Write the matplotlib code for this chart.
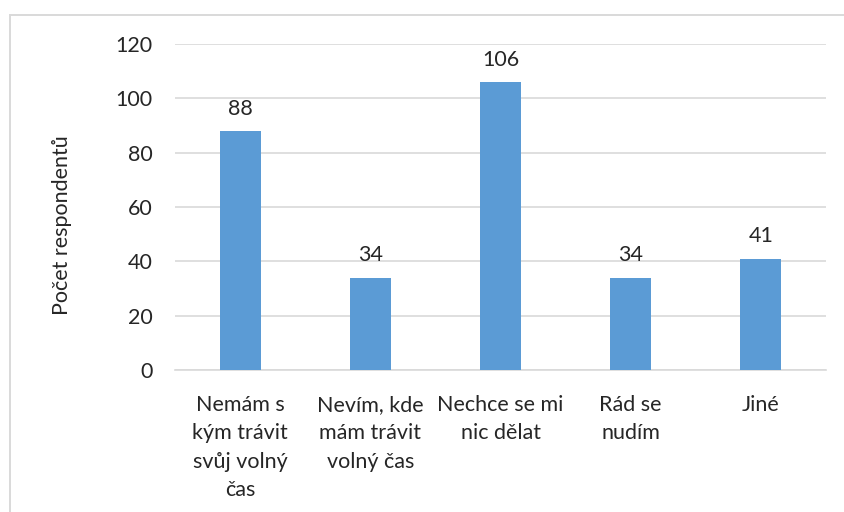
import matplotlib.pyplot as plt
from matplotlib.patches import Rectangle

# data
kategorie = ['Nemám s\nkým trávit\nsvůj volný\nčas', 'Nevím, kde\nmám trávit\nvolný čas',
             'Nechce se mi\nnic dělat', 'Rád se\nnudím', 'Jiné']
pocty = [88, 34, 106, 34, 41]
y_ticks = [0, 20, 40, 60, 80, 100, 120]

plt.rcParams['font.family'] = ['Lato', 'DejaVu Sans']
FS = 15.5

fig = plt.figure(figsize=(8.44, 5.12), dpi=100)
ax = fig.add_axes([175 / 844, 1 - 370 / 512, (826 - 175) / 844, 326 / 512])

# outer frame like the Excel chart area (only left and top visible)
fig.patches.append(Rectangle((10 / 844, -0.1), 0.99 + 0.1, 1 - 15 / 512 + 0.1,
                             transform=fig.transFigure, fill=False,
                             edgecolor='#d9d9d9', linewidth=1.4))

x = range(len(pocty))
ax.bar(x, pocty, width=0.315, color='#5b9bd5', zorder=3)
for i, v in zip(x, pocty):
    ax.text(i, v + 4.5, str(v), ha='center', va='bottom', fontsize=FS, color='#262626')

ax.set_xlim(-0.5, len(pocty) - 0.5)
ax.set_ylim(0, 120)
ax.set_yticks(y_ticks)
ax.yaxis.grid(True, color='#d9d9d9', linewidth=1.2, zorder=0)
ax.set_xticks(list(x))
ax.set_xticklabels(kategorie, fontsize=FS, color='#262626', linespacing=1.52, va='top')
ax.tick_params(axis='both', length=0, labelsize=FS, colors='#262626')
ax.tick_params(axis='x', pad=18)
ax.tick_params(axis='y', pad=16)
for s in ['top', 'right', 'left']:
    ax.spines[s].set_visible(False)
ax.spines['bottom'].set_color('#d9d9d9')
ax.spines['bottom'].set_linewidth(1.2)

fig.text(62 / 844, 1 - 225 / 512, 'Počet respondentů', rotation=90, ha='center', va='center',
         fontsize=FS, color='#262626')

fig.savefig('out.png', dpi=100)
